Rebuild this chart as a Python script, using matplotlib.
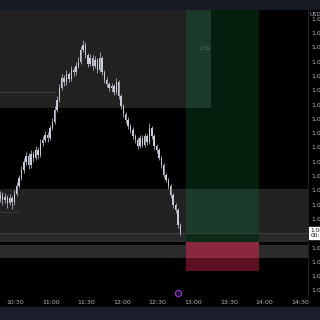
import numpy as np
import matplotlib
matplotlib.use("Agg")
import matplotlib.pyplot as plt
from matplotlib.patches import Rectangle

# ---- data -------------------------------------------------------------
# candle start times (minutes after midnight), 2-minute candles
times = np.arange(616, 770, 2)
closes = [1.08184, 1.08166, 1.08177, 1.08156, 1.08173, 1.08159, 1.08187, 1.08215,
          1.08243, 1.08271, 1.08299, 1.08320, 1.08289, 1.08327, 1.08313, 1.08341,
          1.08324, 1.08366, 1.08376, 1.08394, 1.08383, 1.08418, 1.08439, 1.08481,
          1.08516, 1.08558, 1.08593, 1.08579, 1.08607, 1.08590, 1.08621, 1.08614,
          1.08635, 1.08649, 1.08691, 1.08709, 1.08674, 1.08642, 1.08663, 1.08635,
          1.08656, 1.08621, 1.08663, 1.08614, 1.08586, 1.08572, 1.08558, 1.08565,
          1.08544, 1.08579, 1.08530, 1.08495, 1.08467, 1.08446, 1.08425, 1.08411,
          1.08390, 1.08376, 1.08355, 1.08383, 1.08359, 1.08390, 1.08369, 1.08418,
          1.08390, 1.08355, 1.08341, 1.08313, 1.08289, 1.08254, 1.08236, 1.08215,
          1.08184, 1.08149, 1.08131, 1.08079, 1.08051]
first_open = 1.08170
highs = [1.08198, 1.08195, 1.08190, 1.08185, 1.08188, 1.08182, 1.08200, 1.08228,
         1.08255, 1.08285, 1.08312, 1.08335, 1.08330, 1.08340, 1.08338, 1.08355,
         1.08350, 1.08380, 1.08390, 1.08408, 1.08405, 1.08430, 1.08452, 1.08495,
         1.08530, 1.08572, 1.08608, 1.08605, 1.08620, 1.08615, 1.08635, 1.08632,
         1.08648, 1.08665, 1.08705, 1.08726, 1.08718, 1.08682, 1.08678, 1.08672,
         1.08670, 1.08664, 1.08684, 1.08670, 1.08622, 1.08595, 1.08580, 1.08575,
         1.08572, 1.08593, 1.08586, 1.08538, 1.08502, 1.08475, 1.08455, 1.08432,
         1.08420, 1.08398, 1.08385, 1.08395, 1.08392, 1.08402, 1.08398, 1.08436,
         1.08425, 1.08398, 1.08362, 1.08348, 1.08320, 1.08296, 1.08262, 1.08244,
         1.08222, 1.08190, 1.08156, 1.08138, 1.08086]
lows = [1.08160, 1.08150, 1.08155, 1.08140, 1.08148, 1.08136, 1.08150, 1.08180,
        1.08208, 1.08236, 1.08262, 1.08290, 1.08275, 1.08280, 1.08300, 1.08305,
        1.08310, 1.08318, 1.08355, 1.08368, 1.08370, 1.08375, 1.08410, 1.08432,
        1.08474, 1.08508, 1.08550, 1.08565, 1.08570, 1.08578, 1.08582, 1.08600,
        1.08605, 1.08628, 1.08642, 1.08684, 1.08662, 1.08630, 1.08635, 1.08622,
        1.08628, 1.08610, 1.08615, 1.08602, 1.08575, 1.08560, 1.08548, 1.08545,
        1.08532, 1.08538, 1.08520, 1.08485, 1.08456, 1.08436, 1.08415, 1.08400,
        1.08380, 1.08365, 1.08345, 1.08348, 1.08350, 1.08352, 1.08360, 1.08362,
        1.08380, 1.08345, 1.08332, 1.08305, 1.08280, 1.08245, 1.08228, 1.08206,
        1.08175, 1.08140, 1.08122, 1.08070, 1.08045]

# price tick labels (the 1.0805 level is hidden behind the last-price label)
price_ticks = [1.0785, 1.0790, 1.0795, 1.0800, 1.0810, 1.0815, 1.0820,
               1.0825, 1.0830, 1.0835, 1.0840, 1.0845, 1.0850, 1.0855, 1.0860,
               1.0865, 1.0870, 1.0875, 1.0880]
time_ticks = [630, 660, 690, 720, 750, 780, 810, 840, 870]
time_labels = ["10:30", "11:00", "11:30", "12:00", "12:30", "13:00", "13:30", "14:00", "14:30"]

last_price = 1.08051
upper_zone = (1.08488, 1.0900)
lower_zone = (1.08019, 1.08205)
low_zone = (1.07963, 1.08009)
entry, stop, target = 1.08019, 1.07918, 1.0900
pos_start, pos_end = 774, 835.5
upper_zone_end = 795
level_line = 1.08544

# ---- figure -----------------------------------------------------------
fig = plt.figure(figsize=(3.2, 3.2), dpi=100, facecolor="black")
ax = fig.add_axes([0, 23 / 320, 308 / 320, 287 / 320], facecolor="black")
xmin, xmax = 616.9, 876.8
ymin, ymax = 1.07827, 1.08831
ax.set_xlim(xmin, xmax)
ax.set_ylim(ymin, ymax)

def rect(x0, x1, y0, y1, color, z):
    ax.add_patch(Rectangle((x0, y0), x1 - x0, y1 - y0, facecolor=color,
                           edgecolor="none", zorder=z))

# zones
rect(600, upper_zone_end, upper_zone[0], upper_zone[1], "#212121", 1)
rect(600, 900, lower_zone[0], lower_zone[1], "#222222", 1)
rect(600, 900, lower_zone[0], last_price, "#292929", 1.1)
rect(600, 900, low_zone[0], low_zone[1], "#2b2b2b", 1)
# position tool
rect(pos_start, pos_end, entry, target, "#03200e", 2)
rect(pos_start, upper_zone_end, upper_zone[0], upper_zone[1], "#1c3a2a", 2.1)
rect(pos_start, pos_end, last_price, lower_zone[1], "#1c3a2a", 2.1)
rect(pos_start, pos_end, lower_zone[0], last_price, "#0c2a18", 2.1)
rect(pos_start, pos_end, stop, entry, "#5c1022", 2)
rect(pos_start, pos_end, low_zone[0], entry, "#8a2840", 2.1)
ax.text(790, 1.08698, "1.5R", color="#4f7260", fontsize=3.5, ha="center",
        va="center", zorder=3)

# lines
ax.plot([600, 663], [level_line, level_line], color="#4c4c4c", lw=0.5, zorder=3)
ax.plot([616, 632], [1.08124, 1.08124], color="#777777", lw=0.5, ls=":", zorder=3)
ax.axhline(last_price, color="#4a4a4a", lw=0.5, zorder=3)

# candles
opens = [first_open] + closes[:-1]
col = "#c9ccd6"
for t, o, h, l, c in zip(times, opens, highs, lows, closes):
    ax.vlines(t + 1, l, h, color=col, lw=0.5, zorder=5)
    lo, hi = min(o, c), max(o, c)
    ax.add_patch(Rectangle((t + 0.4, lo), 1.2, max(hi - lo, 0.000015),
                           facecolor=col, edgecolor="none", zorder=5))

# purple event icon
ax.plot([767], [1.07841], marker="o", ms=4.5, mfc="#2a0e3c", mec="#a040d8",
        mew=0.7, zorder=6)

# axes styling
for s in ax.spines.values():
    s.set_visible(False)
ax.set_xticks(time_ticks)
ax.set_xticklabels(time_labels)
ax.tick_params(axis="x", length=0, pad=2.5, labelsize=4.5, labelcolor="#b2b5be")
ax.yaxis.tick_right()
ax.set_yticks(price_ticks)
ax.set_yticklabels([f"{p:.4f}" for p in price_ticks])
ax.tick_params(axis="y", length=0, pad=2.3, labelsize=4.5, labelcolor="#b2b5be")

# right axis separator
fig.add_artist(plt.Line2D([308 / 320, 308 / 320], [23 / 320, 310 / 320],
                          color="#2a2e39", lw=0.5))

# price label box
ax.annotate(f"{last_price:.5f}\n00:12", xy=(1.0, last_price),
            xycoords=("axes fraction", "data"), xytext=(1.8, 0),
            textcoords="offset points", ha="left", va="center", fontsize=4.2,
            color="#111111", linespacing=1.0,
            bbox=dict(boxstyle="square,pad=0.25", fc="white", ec="white"),
            zorder=10, annotation_clip=False)

fig.text(310 / 320, 1 - 14 / 320, "USD", color="#b2b5be", fontsize=4,
         ha="left", va="center")

# top and bottom bars
fig.add_artist(Rectangle((0, 310 / 320), 1, 10 / 320, transform=fig.transFigure,
                         facecolor="#161a25", edgecolor="none"))
fig.add_artist(Rectangle((0, 0), 1, 13 / 320, transform=fig.transFigure,
                         facecolor="#1a1e2a", edgecolor="none"))

fig.savefig("out.png", dpi=100, facecolor="black")
